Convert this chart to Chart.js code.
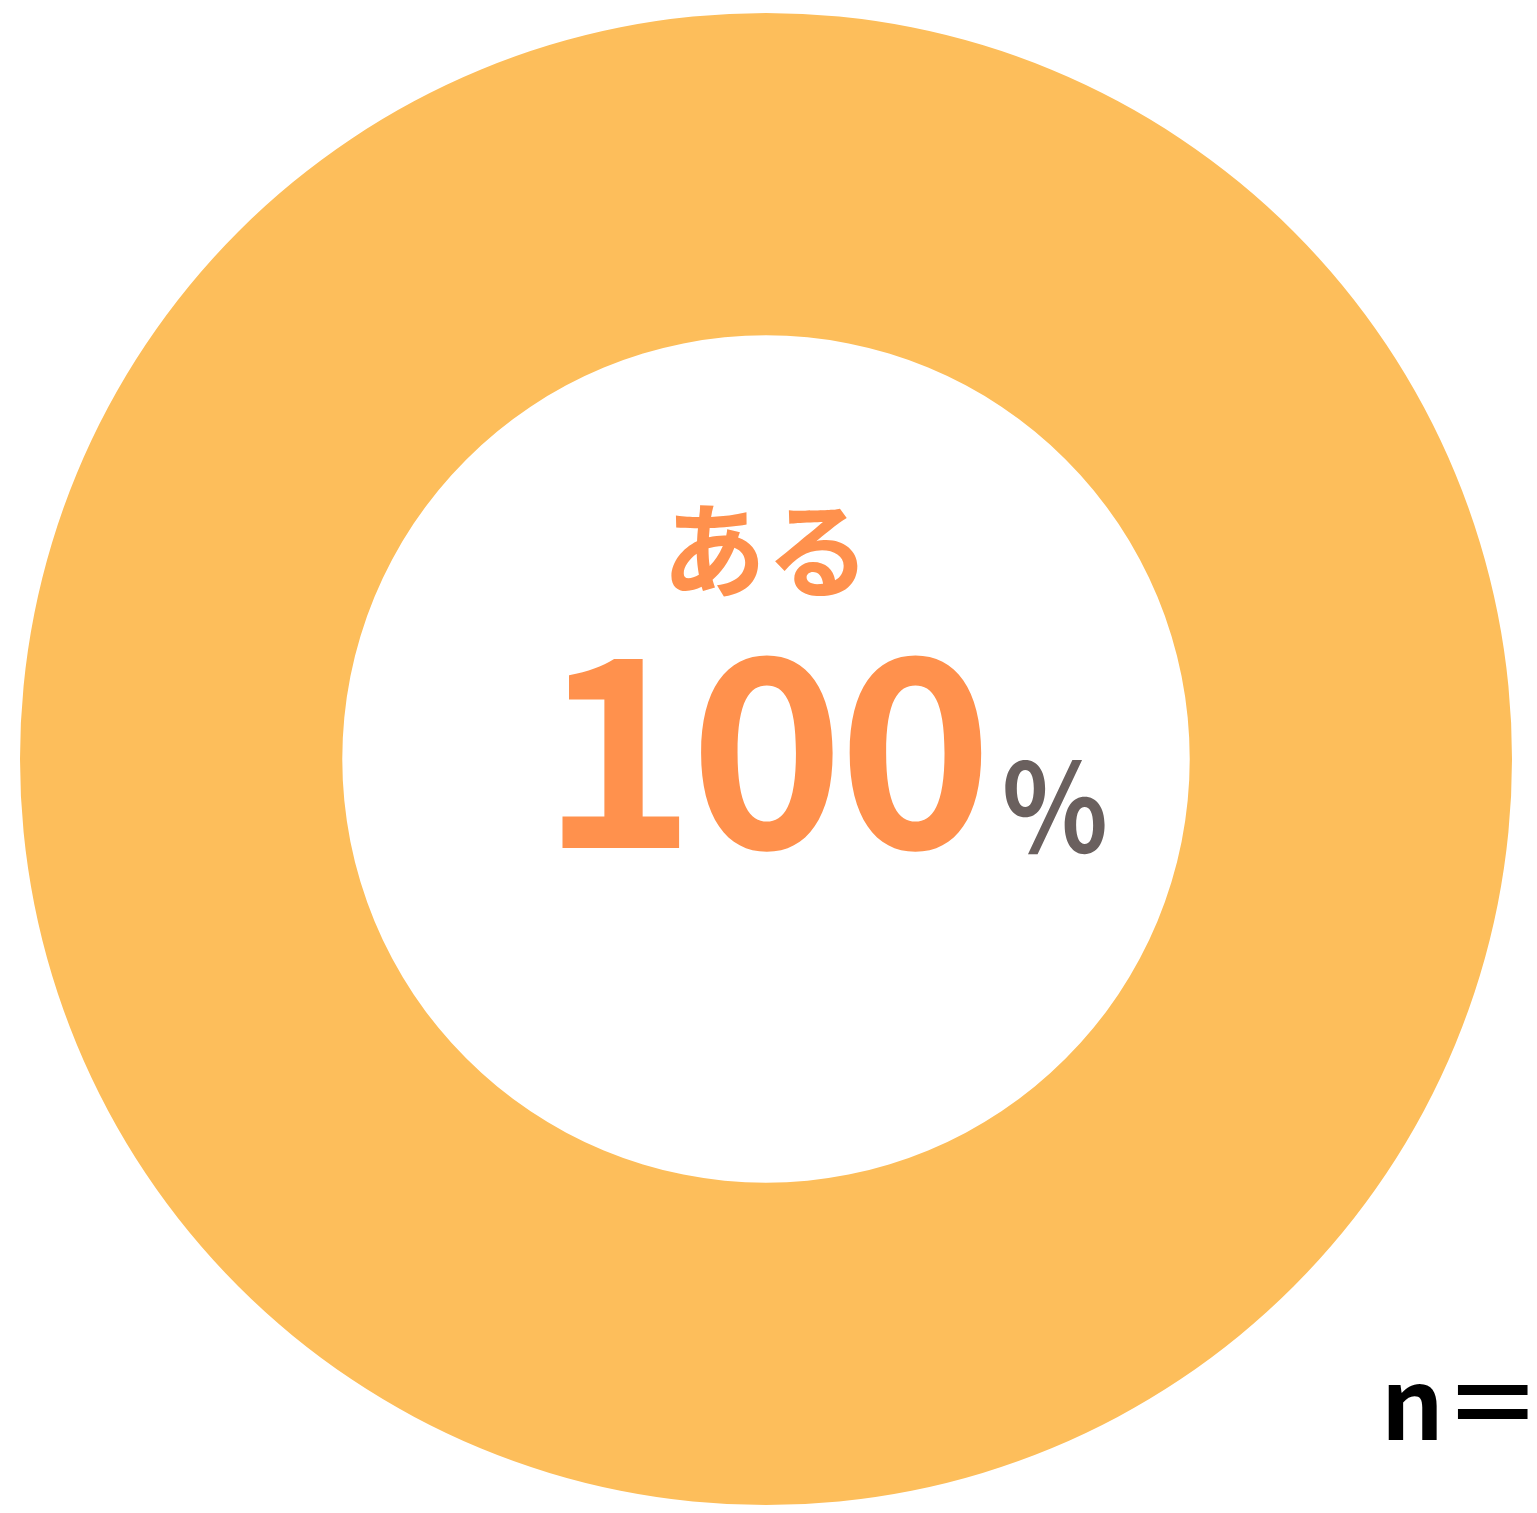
<!DOCTYPE html>
<html>
    <style>
        body {
            background-color: white;
            margin: 0;
            padding: 0;
            overflow: hidden;
        }
        #chart_box {
            width: 1537px;
            height: 1513px;
            position: relative;
        }
    </style>
    <script src="https://cdn.jsdelivr.net/npm/chart.js"></script>
    <body>
        <div id="chart_box">
            <canvas id="myChart"></canvas>
        </div>
    </body>
    <script>
        // Data
        const labels = ['ある'];
        const values = [100];
        const colors = ['#FDBE5B'];
        const center_label = 'ある';
        const center_value = '100';
        const note_text = 'n＝';

        // Draws the text in the hole and the n note
        const centerText = {
            id: 'centerText',
            afterDraw(chart) {
                const ctx = chart.ctx;
                const cx = chart.getDatasetMeta(0).data[0].x;
                ctx.save();
                ctx.textBaseline = 'alphabetic';

                ctx.fillStyle = '#FF914D';
                ctx.textAlign = 'center';
                ctx.font = 'bold 104px "Noto Sans CJK JP"';
                ctx.fillText(center_label, cx, 590);

                ctx.font = 'bold 262px "Noto Sans CJK JP"';
                ctx.textAlign = 'left';
                ctx.letterSpacing = '-6px';
                ctx.fillText(center_value, 541, 848);
                ctx.letterSpacing = '0px';

                // percent sign, a bit narrower than the font gives
                ctx.fillStyle = '#6A605E';
                ctx.font = 'bold 122px "Noto Sans CJK JP"';
                ctx.save();
                ctx.translate(1000, 853);
                ctx.scale(0.9, 1);
                ctx.fillText('％', 0, 0);
                ctx.restore();

                ctx.fillStyle = '#000000';
                ctx.font = 'bold 98px "Noto Sans CJK JP"';
                ctx.fillText(note_text, 1381, 1440);
                ctx.restore();
            }
        };

        const config = {
            type: 'doughnut',
            data: {
                labels: labels,
                datasets: [{
                    data: values,
                    backgroundColor: colors,
                    borderWidth: 0
                }]
            },
            options: {
                responsive: true,
                maintainAspectRatio: false,
                animation: false,
                cutout: '56.8%',
                layout: {
                    padding: { left: 20, right: 25, top: 13, bottom: 8 }
                },
                plugins: {
                    legend: { display: false },
                    tooltip: { enabled: false }
                }
            },
            plugins: [centerText]
        };

        const myChart = new Chart(document.getElementById('myChart'), config);
    </script>
</html>
